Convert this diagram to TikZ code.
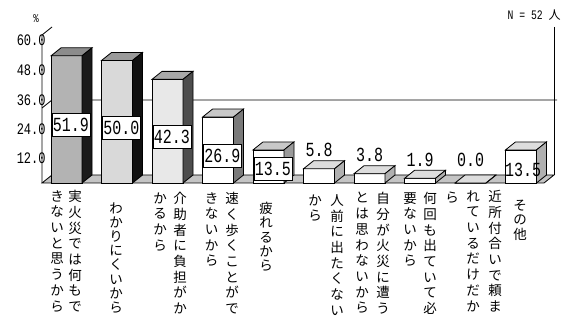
\documentclass[tikz,border=0pt]{standalone}
\usepackage{fontspec}
\newfontfamily\jpfont{Noto Sans CJK JP}
\newfontfamily\numfont[FakeStretch=0.75]{Liberation Mono}
\definecolor{fa}{HTML}{B3B3B3}
\definecolor{fb}{HTML}{D9D9D9}
\definecolor{fc}{HTML}{E8E8E8}
\definecolor{fw}{HTML}{FFFFFF}
\definecolor{ta}{HTML}{8C8C8C}
\definecolor{tb}{HTML}{9A9A9A}
\definecolor{tc}{HTML}{A8A8A8}
\definecolor{td}{HTML}{C8C8C8}
\definecolor{te}{HTML}{DDDDDD}
\definecolor{sa}{HTML}{1A1A1A}
\definecolor{sb}{HTML}{111111}
\definecolor{sc}{HTML}{4D4D4D}
\definecolor{sd}{HTML}{7A7A7A}
\definecolor{se}{HTML}{9A9A9A}
\definecolor{sf}{HTML}{B0B0B0}
\definecolor{floorc}{HTML}{C4C4C4}
\begin{document}
\begin{tikzpicture}[x=1pt,y=-1pt,line width=0.8pt,
  vcol/.style={anchor=north,align=center,inner sep=0pt,font=\jpfont\fontsize{13.5}{15.7}\selectfont},
  vcols/.style={anchor=north,align=center,inner sep=0pt,font=\jpfont\fontsize{13.5}{14.2}\selectfont},
  ticklab/.style={anchor=east,inner sep=0pt,font=\numfont\fontsize{16}{16}\selectfont},
  vallab/.style={inner sep=0pt,font=\numfont\fontsize{20}{20}\selectfont},
  valbox/.style={vallab,draw=black,fill=white,minimum width=38pt,minimum height=23pt}]
\useasboundingbox (0,0) rectangle (568,320);
% floor
\filldraw[fill=floorc] (42,183) -- (544,183) -- (554,175) -- (52,175) -- cycle;
% axes and back wall
\draw (42,183) -- (42,35) -- (52,27);
\draw (554,27) -- (554,175);
\draw (42,108) -- (52,100) -- (557,100);
% bars
\foreach \i/\v/\cf/\ct/\cs in {0/51.9/fa/ta/sa,1/50.0/fb/tb/sb,2/42.3/fc/tc/sc,3/26.9/fw/td/sd,4/13.5/fw/td/se,5/5.8/fw/te/sf,6/3.8/fw/te/sf,7/1.9/fw/te/sf,8/0.0/fw/te/sf,9/13.5/fw/te/sf}{
  \pgfmathsetmacro\L{51+50.5*\i}
  \pgfmathsetmacro\T{183-2.45*\v}
  \pgfmathsetmacro\R{\L+31}
  \pgfmathsetmacro\H{2.45*\v}
  \filldraw[fill=\cf] (\L,\T) rectangle (\R,183);
  \filldraw[fill=\ct] (\L,\T) -- ++(10,-8) -- ++(31,0) -- (\R,\T) -- cycle;
  \filldraw[fill=\cs] (\R,\T) -- ++(10,-8) -- ++(0,\H) -- (\R,183) -- cycle;
}
% tick labels
\node[ticklab] (t60) at (46,40) {60.0};
\node[ticklab] (t48) at (46,70) {48.0};
\node[ticklab] (t36) at (46,100) {36.0};
\node[ticklab] (t24) at (46,129) {24.0};
\node[ticklab] (t12) at (46,158) {12.0};
\node[inner sep=0pt,font=\numfont\fontsize{12}{12}\selectfont] (pct) at (36,19) {\%};
\node[anchor=east,inner sep=0pt] (nn) at (561,15) {{\numfont\fontsize{13}{13}\selectfont N = 52 }{\jpfont\fontsize{12}{12}\selectfont 人}};
% value labels
\node[valbox] (v1) at (71,124.5) {51.9};
\node[valbox] (v2) at (121.5,127.5) {50.0};
\node[valbox] (v3) at (172,136.5) {42.3};
\node[valbox] (v4) at (222.5,156) {26.9};
\node[valbox] (v5) at (273,168.5) {13.5};
\node[vallab] (v6) at (319,150) {5.8};
\node[vallab] (v7) at (369.5,155) {3.8};
\node[vallab] (v8) at (420,160) {1.9};
\node[vallab] (v9) at (470.5,160) {0.0};
\node[valbox,draw=none,fill=none] (v10) at (523,170) {13.5};
% category labels (vertical)
\node[vcol] (c1a) at (75,190) {実\\火\\災\\で\\は\\何\\も\\で};
\node[vcol] (c1b) at (57,190) {き\\な\\い\\と\\思\\う\\か\\ら};
\node[vcols] (c2) at (116,202) {わ\\か\\り\\に\\く\\い\\か\\ら};
\node[vcol] (c3a) at (180,192) {介\\助\\者\\に\\負\\担\\が\\か};
\node[vcol] (c3b) at (160,192) {か\\る\\か\\ら};
\node[vcol] (c4a) at (232,192) {速\\く\\歩\\く\\こ\\と\\が\\で};
\node[vcol] (c4b) at (211.5,192) {き\\な\\い\\か\\ら};
\node[vcols] (c5) at (266,202) {疲\\れ\\る\\か\\ら};
\node[vcol] (c6a) at (337,194) {人\\前\\に\\出\\た\\く\\な\\い};
\node[vcol] (c6b) at (315,194) {か\\ら};
\node[vcol] (c7a) at (383,192) {自\\分\\が\\火\\災\\に\\遭\\う};
\node[vcol] (c7b) at (362,192) {と\\は\\思\\わ\\な\\い\\か\\ら};
\node[vcol] (c8a) at (430,192) {何\\回\\も\\出\\て\\い\\て\\必};
\node[vcol] (c8b) at (410,192) {要\\な\\い\\か\\ら};
\node[vcol] (c9a) at (495,190) {近\\所\\付\\合\\い\\で\\頼\\ま};
\node[vcol] (c9b) at (473,190) {れ\\て\\い\\る\\だ\\け\\だ\\か};
\node[vcol] (c9c) at (452,192) {ら};
\node[vcols] (c10) at (520,200) {そ\\の\\他};
\end{tikzpicture}
\end{document}
